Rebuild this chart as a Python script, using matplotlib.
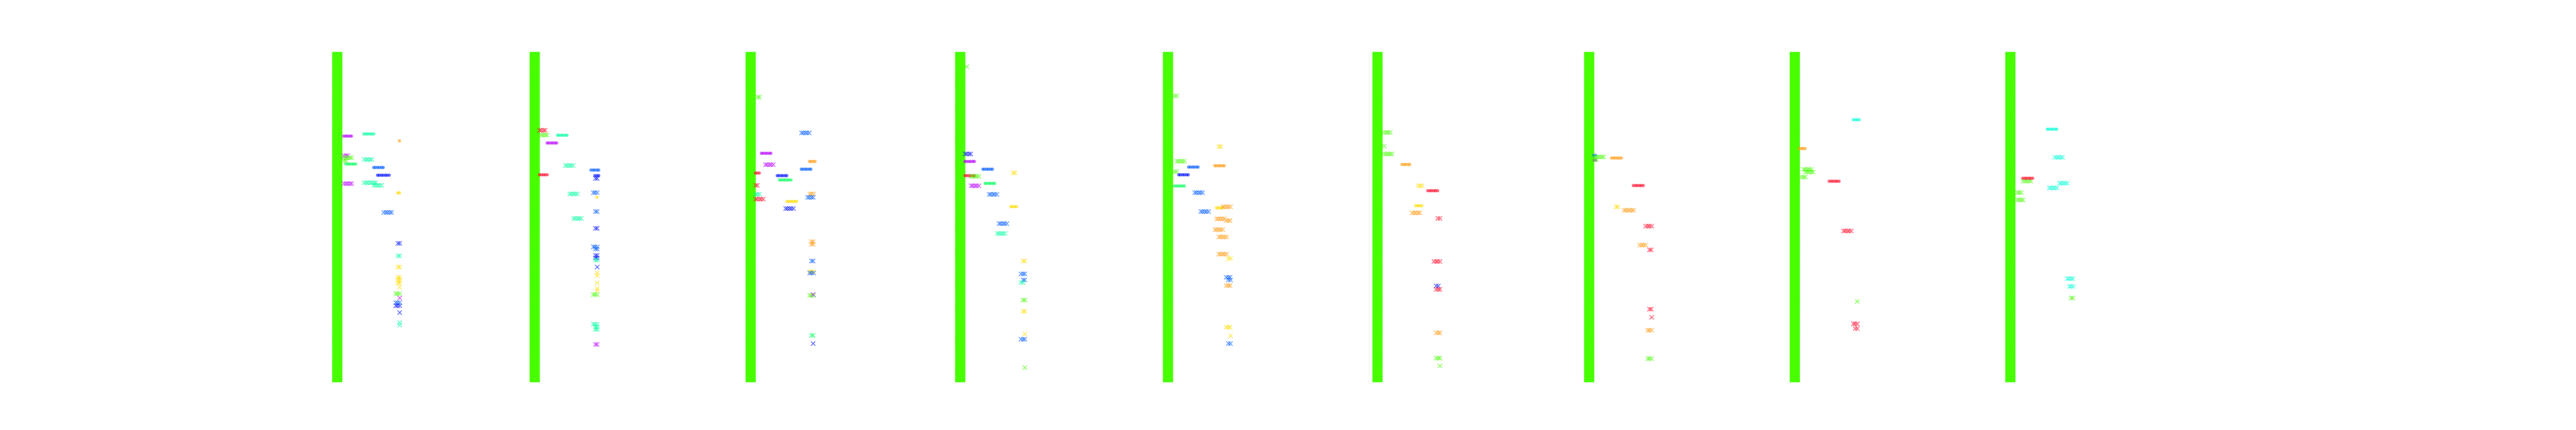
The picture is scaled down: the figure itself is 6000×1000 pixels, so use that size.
import numpy as np
import matplotlib
matplotlib.use("Agg")
import matplotlib.pyplot as plt


# each record: (row, first offset, repeats, group, kind)
panel_1 = [
    (25.5, 27.2, 5, 'violet', 'o'), (24.8, 74.2, 6, 'mint', 'o'), (26.9, 157.0, 1, 'orange', 'o'),
    (31.5, 28.2, 3, 'violet', 'x'), (32.1, 28.2, 5, 'lime', 'x'), (33.0, 28.2, 2, 'lime', 'x'),
    (33.9, 32.2, 6, 'green', 'o'), (32.7, 75.2, 5, 'mint', 'x'), (35.0, 96.8, 6, 'azure', 'o'),
    (37.3, 105.8, 7, 'blue', 'o'), (39.9, 28.2, 5, 'violet', 'x'), (39.6, 75.2, 7, 'mint', 'x'),
    (40.4, 97.8, 5, 'mint', 'x'), (42.6, 152.8, 2, 'yellow', 'o'), (48.6, 121.2, 5, 'azure', 'x'),
    (58.0, 153.8, 2, 'blue', 'x'), (61.8, 153.8, 2, 'mint', 'x'), (65.2, 153.8, 2, 'yellow', 'x'),
    (68.3, 153.8, 2, 'yellow', 'x'), (69.1, 153.8, 2, 'yellow', 'x'), (70.0, 153.8, 2, 'yellow', 'x'),
    (71.2, 158.0, 1, 'yellow', 'x'), (73.2, 148.8, 3, 'lime', 'x'), (74.5, 158.0, 1, 'violet', 'x'),
    (76.0, 148.8, 3, 'azure', 'x'), (76.9, 148.8, 3, 'blue', 'x'), (78.9, 158.0, 1, 'blue', 'x'),
    (81.9, 158.0, 1, 'mint', 'x'), (82.7, 158.0, 1, 'mint', 'x'),
]
panel_2 = [
    (23.8, 23.8, 4, 'red', 'x'), (25.2, 27.8, 4, 'lime', 'x'), (25.2, 64.5, 6, 'mint', 'o'),
    (27.6, 40.5, 6, 'violet', 'o'), (34.4, 83.8, 5, 'mint', 'x'), (37.2, 22.8, 5, 'red', 'o'),
    (35.8, 143.5, 5, 'azure', 'o'), (37.5, 152.2, 3, 'blue', 'o'), (38.4, 153.8, 2, 'blue', 'x'),
    (43.0, 93.8, 5, 'mint', 'x'), (42.6, 148.8, 3, 'azure', 'x'), (43.9, 157.0, 1, 'yellow', 'o'),
    (48.4, 153.8, 2, 'azure', 'x'), (50.4, 102.8, 5, 'mint', 'x'), (53.4, 153.8, 2, 'blue', 'x'),
    (59.0, 148.8, 3, 'azure', 'x'), (59.7, 153.8, 2, 'azure', 'x'), (61.6, 153.8, 2, 'blue', 'x'),
    (62.4, 153.8, 2, 'blue', 'x'), (63.1, 153.8, 2, 'mint', 'x'), (65.1, 158.0, 1, 'blue', 'x'),
    (67.0, 158.0, 1, 'yellow', 'x'), (67.8, 158.0, 1, 'yellow', 'x'), (69.9, 158.0, 1, 'yellow', 'x'),
    (71.6, 158.0, 1, 'yellow', 'x'), (72.3, 158.0, 1, 'yellow', 'x'), (73.5, 148.8, 3, 'lime', 'x'),
    (82.4, 148.8, 3, 'mint', 'x'), (83.3, 153.8, 2, 'mint', 'x'), (84.0, 153.8, 2, 'mint', 'x'),
    (88.6, 153.8, 2, 'violet', 'x'),
]
panel_3 = [
    (13.8, 28.5, 2, 'lime', 'x'), (24.6, 130.8, 5, 'azure', 'x'), (30.7, 36.5, 6, 'violet', 'o'),
    (33.1, 148.5, 4, 'orange', 'o'), (34.2, 46.5, 5, 'violet', 'x'), (35.5, 129.5, 6, 'azure', 'o'),
    (36.7, 22.5, 3, 'red', 'o'), (37.5, 73.5, 6, 'blue', 'o'), (38.7, 78.5, 7, 'green', 'o'),
    (40.5, 23.5, 2, 'red', 'x'), (43.2, 23.5, 3, 'mint', 'x'), (44.6, 23.5, 5, 'red', 'x'),
    (43.1, 149.5, 3, 'orange', 'x'), (44.1, 144.5, 4, 'azure', 'x'), (45.2, 96.5, 6, 'yellow', 'o'),
    (47.5, 93.5, 5, 'blue', 'x'), (57.5, 153.5, 2, 'orange', 'x'), (58.2, 153.5, 2, 'orange', 'x'),
    (63.3, 153.5, 2, 'azure', 'x'), (66.6, 149.5, 3, 'yellow', 'x'), (67.0, 149.5, 3, 'azure', 'x'),
    (73.7, 149.5, 3, 'lime', 'x'), (73.5, 158.0, 1, 'violet', 'x'), (85.8, 153.5, 2, 'green', 'x'),
    (88.3, 158.0, 1, 'blue', 'x'),
]
panel_4 = [
    (4.5, 28.2, 1, 'lime', 'x'), (31.0, 23.8, 4, 'blue', 'x'), (33.1, 22.8, 6, 'violet', 'o'),
    (35.5, 64.5, 6, 'azure', 'o'), (36.7, 135.5, 2, 'yellow', 'x'), (37.4, 22.8, 6, 'red', 'o'),
    (37.7, 37.8, 5, 'lime', 'x'), (39.8, 69.5, 6, 'green', 'o'), (40.6, 37.8, 5, 'violet', 'x'),
    (43.2, 79.8, 5, 'azure', 'x'), (46.8, 129.5, 4, 'yellow', 'o'), (52.0, 102.8, 5, 'azure', 'x'),
    (55.0, 98.8, 5, 'mint', 'x'), (63.3, 158.8, 2, 'yellow', 'x'), (67.2, 154.2, 3, 'azure', 'x'),
    (69.0, 158.8, 2, 'azure', 'x'), (69.8, 154.2, 2, 'mint', 'x'), (75.2, 158.8, 2, 'lime', 'x'),
    (78.6, 158.8, 2, 'yellow', 'x'), (85.5, 163.0, 1, 'yellow', 'x'), (87.0, 154.2, 3, 'azure', 'x'),
    (95.6, 163.0, 1, 'lime', 'x'),
]
panel_5 = [
    (13.4, 28.2, 2, 'lime', 'x'), (28.8, 130.5, 2, 'yellow', 'x'), (33.1, 32.5, 5, 'lime', 'x'),
    (34.4, 120.5, 6, 'orange', 'o'), (34.9, 59.5, 6, 'azure', 'o'), (36.3, 28.2, 2, 'lime', 'x'),
    (37.2, 36.5, 6, 'blue', 'o'), (40.6, 27.2, 6, 'green', 'o'), (42.6, 74.8, 5, 'azure', 'x'),
    (47.2, 124.5, 4, 'yellow', 'o'), (47.0, 139.8, 5, 'orange', 'x'), (48.4, 88.8, 5, 'azure', 'x'),
    (50.6, 125.5, 5, 'orange', 'x'), (51.1, 148.2, 3, 'orange', 'x'), (53.9, 121.5, 5, 'orange', 'x'),
    (56.0, 130.5, 5, 'orange', 'x'), (61.2, 130.5, 5, 'orange', 'x'), (62.6, 153.2, 2, 'yellow', 'x'),
    (68.3, 148.2, 3, 'azure', 'x'), (69.0, 153.2, 2, 'azure', 'x'), (70.7, 148.2, 3, 'orange', 'x'),
    (83.4, 148.2, 3, 'yellow', 'x'), (85.9, 158.2, 1, 'yellow', 'x'), (88.3, 153.2, 2, 'azure', 'x'),
]
panel_6 = [
    (24.5, 28.5, 4, 'lime', 'x'), (28.6, 28.5, 1, 'lime', 'x'), (31.0, 28.5, 5, 'lime', 'x'),
    (34.1, 69.2, 5, 'orange', 'o'), (40.6, 107.5, 3, 'yellow', 'x'), (42.0, 129.2, 6, 'red', 'o'),
    (46.5, 101.5, 4, 'yellow', 'o'), (48.7, 93.5, 5, 'orange', 'x'), (50.4, 153.5, 2, 'red', 'x'),
    (63.5, 144.5, 4, 'red', 'x'), (70.9, 149.5, 2, 'blue', 'x'), (71.9, 149.5, 3, 'red', 'x'),
    (85.1, 149.5, 3, 'orange', 'x'), (92.7, 149.5, 3, 'lime', 'x'), (95.1, 158.5, 1, 'lime', 'x'),
]
panel_7 = [
    (31.3, 22.0, 2, 'azure', 'o'), (32.8, 22.5, 2, 'violet', 'o'), (31.8, 23.5, 6, 'lime', 'x'),
    (32.6, 20.0, 3, 'lime', 'x'), (32.1, 64.2, 6, 'orange', 'o'), (40.4, 115.2, 6, 'red', 'o'),
    (46.9, 74.5, 2, 'yellow', 'x'), (48.0, 93.5, 6, 'orange', 'x'), (52.8, 144.2, 4, 'red', 'x'),
    (58.5, 130.2, 4, 'orange', 'x'), (59.9, 152.8, 2, 'red', 'x'), (77.9, 152.8, 2, 'red', 'x'),
    (80.3, 157.8, 1, 'red', 'x'), (84.3, 148.8, 3, 'orange', 'x'), (92.9, 148.8, 3, 'lime', 'x'),
]
panel_8 = [
    (20.5, 148.2, 4, 'cyan', 'o'), (29.3, 22.2, 4, 'orange', 'o'), (35.6, 32.5, 5, 'lime', 'x'),
    (36.4, 37.2, 5, 'lime', 'x'), (38.0, 28.2, 3, 'lime', 'x'), (39.2, 92.2, 6, 'red', 'o'),
    (54.2, 125.5, 5, 'red', 'x'), (75.5, 158.2, 1, 'lime', 'x'), (82.3, 148.8, 3, 'red', 'x'),
    (83.7, 153.2, 2, 'red', 'x'),
]
panel_9 = [
    (23.4, 97.5, 6, 'cyan', 'o'), (32.0, 116.2, 5, 'cyan', 'x'), (39.1, 42.2, 5, 'lime', 'x'),
    (38.2, 41.2, 6, 'red', 'o'), (39.8, 126.8, 5, 'cyan', 'x'), (41.2, 102.8, 5, 'cyan', 'x'),
    (42.7, 28.5, 3, 'lime', 'x'), (44.9, 28.5, 4, 'lime', 'x'), (68.6, 144.5, 4, 'cyan', 'x'),
    (71.0, 149.5, 3, 'cyan', 'x'), (74.5, 153.5, 2, 'lime', 'x'),
]
panels = [panel_1, panel_2, panel_3, panel_4, panel_5, panel_6, panel_7, panel_8, panel_9]

# band covering every row, from offset 0 to 24
band_width = 24
band_rows = 100

# ---------------- style / layout ----------------
colors = {
    'violet': '#b800ff', 'mint': '#00ffa2', 'green': '#00ff5a', 'orange': '#ff9a10',
    'yellow': '#ffdc00', 'azure': '#005cff', 'blue': '#0010ff', 'red': '#ff0a2a',
    'lime': '#44ff00', 'cyan': '#00ffd8',
}
band_color = '#48ff00'
step = 4.5                       # gap between repeated marks
panel_left_px = [773, 1233, 1736, 2224, 2708, 3196, 3689, 4168, 4670]
fig_w, fig_h = 6000, 1000
ax_w_px = 200

fig = plt.figure(figsize=(60, 10), dpi=100)

for recs, left in zip(panels, panel_left_px):
    ax = fig.add_axes([left / fig_w, 0.111, ax_w_px / fig_w, 0.769])
    ax.bar(0, band_rows, width=band_width, bottom=0, align='edge',
           color=band_color, edgecolor='white', linewidth=0.6, linestyle=(0, (2, 4)))

    for row, x0, n, grp, kind in recs:
        xs = x0 + step * np.arange(n)
        if kind == 'o':
            ax.plot(xs, np.full(n, row), linestyle='none', marker='o', ms=5.5,
                    mew=0, color=colors[grp], alpha=0.6)
        else:
            ax.plot(xs, np.full(n, row), linestyle='none', marker='x', ms=6.5,
                    mew=1.4, color=colors[grp], alpha=0.6)

    ax.set_xlim(0, ax_w_px)
    ax.set_ylim(band_rows, 0)
    ax.axis('off')

fig.savefig('out.png', dpi=100, facecolor='white')
